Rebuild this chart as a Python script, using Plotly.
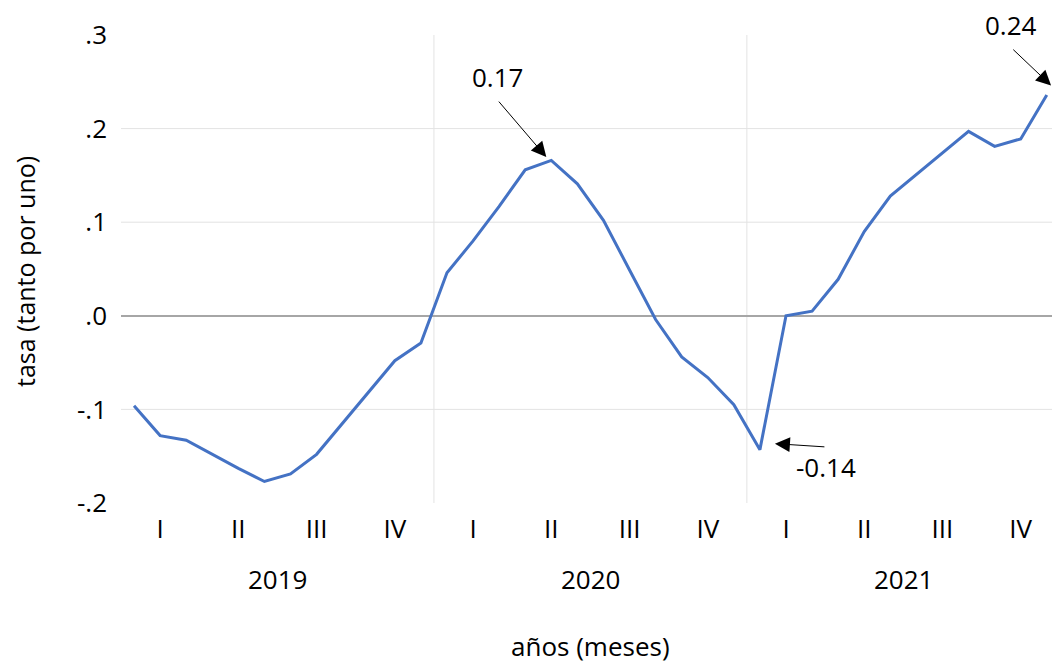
import plotly.graph_objects as go

# ---------------- data ----------------
years = [2019, 2020, 2021]
quarters = ["I", "II", "III", "IV"]
months_per_year = 12
tasa = [
    -0.096, -0.128, -0.133, -0.148, -0.163, -0.177,
    -0.169, -0.148, -0.115, -0.082, -0.048, -0.029,
    0.046, 0.080, 0.117, 0.156, 0.166, 0.141,
    0.102, 0.049, -0.004, -0.044, -0.066, -0.095,
    -0.143, 0.000, 0.005, 0.039, 0.090, 0.128,
    0.151, 0.175, 0.197, 0.181, 0.189, 0.236,
]
y_ticks = [-0.2, -0.1, 0.0, 0.1, 0.2, 0.3]
y_tick_labels = ["-.2", "-.1", ".0", ".1", ".2", ".3"]
grid_values = [-0.1, 0.1, 0.2]
highlight_idx = [16, 24, 35]

# ---------------- styles ----------------
FONT = "Open Sans"
FS = 26
BLUE = "#4472C4"
GRID = "#e3e3e3"

x = list(range(len(tasa)))
q_vals = [y * months_per_year + q * 3 + 1 for y in range(len(years)) for q in range(4)]
q_text = [quarters[q] for _ in years for q in range(4)]

fig = go.Figure()
fig.add_trace(go.Scatter(x=x, y=tasa, mode="lines",
                         line=dict(color=BLUE, width=3), hoverinfo="skip"))

shapes = []
for g in grid_values:
    shapes.append(dict(type="line", xref="paper", x0=0, x1=1, yref="y", y0=g, y1=g,
                       line=dict(color=GRID, width=1), layer="below"))
for k in range(1, len(years)):
    xb = k * months_per_year - 0.5
    shapes.append(dict(type="line", xref="x", x0=xb, x1=xb, yref="paper", y0=0, y1=1,
                       line=dict(color=GRID, width=1), layer="below"))

annotations = []
# year labels
for k, yr in enumerate(years):
    annotations.append(dict(x=k * months_per_year + (months_per_year - 1) / 2, xref="x",
                            y=0, yref="paper", xanchor="center", yanchor="middle",
                            yshift=-76, text=str(yr), showarrow=False,
                            font=dict(family=FONT, size=FS, color="black")))
# axis titles
annotations.append(dict(x=(len(tasa) - 1) / 2, xref="x", y=0, yref="paper",
                        xanchor="center", yanchor="middle", yshift=-143,
                        text="años (meses)", showarrow=False,
                        font=dict(family=FONT, size=FS, color="black")))
annotations.append(dict(x=0, xref="paper", xshift=-96, y=0.5, yref="paper", yshift=-3,
                        xanchor="center", yanchor="middle",
                        text="tasa (tanto por uno)", textangle=-90, showarrow=False,
                        font=dict(family=FONT, size=25, color="black")))

# callouts: (arrow xshift, yshift, ax, ay, text xshift, text yshift)
callout_offsets = {
    16: (-5, 3.3, -48.7, -57, -53.7, 83.5),
    24: (15, 6, 51, 3.3, 66, -17),
    35: (4.3, 9.4, -39.3, -37.3, -35.7, 69.7),
}
for i in highlight_idx:
    axs, ays, ax, ay, txs, tys = callout_offsets[i]
    annotations.append(dict(x=i, y=tasa[i], xref="x", yref="y", text="",
                            showarrow=True, arrowhead=2, arrowsize=3, arrowwidth=1,
                            arrowcolor="black", ax=ax, ay=ay, xshift=axs, yshift=ays,
                            standoff=0))
    annotations.append(dict(x=i, y=tasa[i], xref="x", yref="y", text=f"{tasa[i]:.2f}",
                            showarrow=False, xshift=txs, yshift=tys,
                            xanchor="center", yanchor="middle",
                            font=dict(family=FONT, size=FS, color="black")))

fig.update_layout(
    width=1052, height=664,
    margin=dict(l=121, r=0, t=35, b=161),
    paper_bgcolor="white", plot_bgcolor="white",
    showlegend=False,
    font=dict(family=FONT, size=FS, color="black"),
    shapes=shapes, annotations=annotations,
    xaxis=dict(range=[-0.5, 35.2], showgrid=False, zeroline=False, showline=False,
               tickmode="array", tickvals=q_vals, ticktext=q_text, ticks="",
               ticklabelstandoff=8, tickfont=dict(family=FONT, size=FS, color="black")),
    yaxis=dict(range=[-0.2, 0.3], showgrid=False, zeroline=True,
               zerolinecolor="#a6a6a6", zerolinewidth=2, showline=False,
               tickmode="array", tickvals=y_ticks, ticktext=y_tick_labels, ticks="",
               ticklabelstandoff=13, tickfont=dict(family=FONT, size=FS, color="black")),
)

fig.write_html("out.html", config={"displayModeBar": False},
               post_script="document.body.style.margin='0';document.body.style.overflow='hidden';")
